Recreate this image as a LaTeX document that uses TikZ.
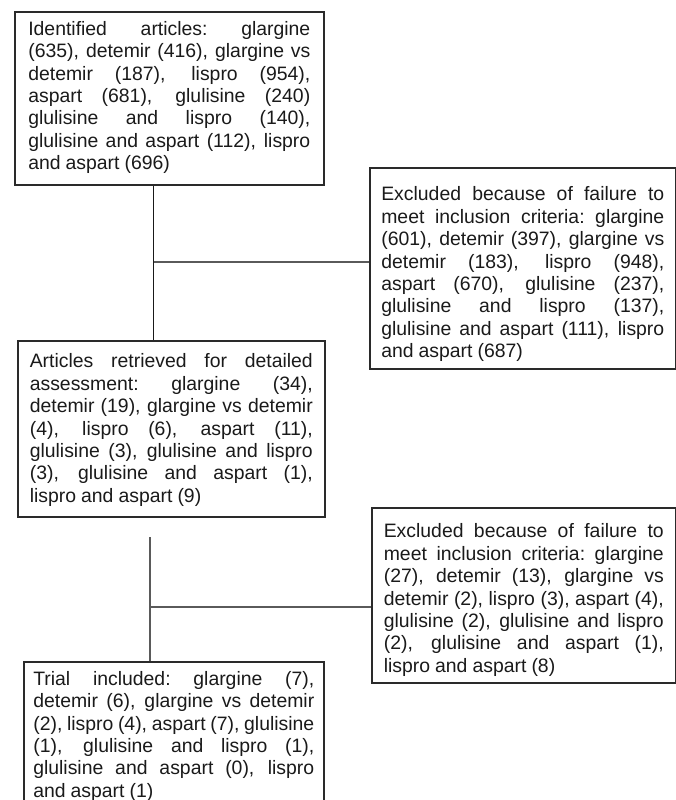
\documentclass[tikz,border=0pt]{standalone}
\usepackage{fontspec}
\setmainfont{Liberation Sans}
\definecolor{boxc}{HTML}{2A2A2A}
\definecolor{txtc}{HTML}{1A1A1A}
\definecolor{linec}{HTML}{5A5A5A}
\newcommand{\jl}[1]{\hbox to \hsize{\spaceskip=.278em plus 1fil minus .16em\xspaceskip=\spaceskip #1}}
\newcommand{\lastln}[1]{\hbox{\spaceskip=.26em\xspaceskip=\spaceskip #1}}
\tikzset{
  box/.style={draw=boxc, line width=1.6pt, fill=white, anchor=north west,
    align=left, text=txtc, inner ysep=0pt,
    font=\fontsize{19.4}{22.4}\selectfont},
  conn/.style={draw=linec, line width=1.3pt},
  mainconn/.style={draw=black!90, line width=1.8pt}
}
\begin{document}
\begin{tikzpicture}[x=1pt,y=-1pt]
\useasboundingbox (0,0) rectangle (676,800);
\fill[white] (0,0) rectangle (676,800);

\node[box, text width=282pt, inner xsep=13.5pt, text height=23.5pt, text depth=149.5pt] (b1) at (14,11)
{\jl{Identified articles: glargine}
\jl{(635), detemir (416), glargine vs}
\jl{detemir (187), lispro (954),}
\jl{aspart (681), glulisine (240)}
\jl{glulisine and lispro (140),}
\jl{glulisine and aspart (112), lispro}
\lastln{and aspart (696)}};

\node[box, text width=283pt, inner xsep=11.5pt, text height=33pt, text depth=168pt] (b2) at (369,167)
{\jl{Excluded because of failure to}
\jl{meet inclusion criteria: glargine}
\jl{(601), detemir (397), glargine vs}
\jl{detemir (183), lispro (948),}
\jl{aspart (670), glulisine (237),}
\jl{glulisine and lispro (137),}
\jl{glulisine and aspart (111), lispro}
\lastln{and aspart (687)}};

\node[box, text width=283pt, inner xsep=12pt, text height=27pt, text depth=149pt] (b3) at (17,340)
{\jl{Articles retrieved for detailed}
\jl{assessment: glargine (34),}
\jl{detemir (19), glargine vs detemir}
\jl{(4), lispro (6), aspart (11),}
\jl{glulisine (3), glulisine and lispro}
\jl{(3), glulisine and aspart (1),}
\lastln{lispro and aspart (9)}};

\node[box, text width=280pt, inner xsep=12pt, text height=30pt, text depth=145pt] (b4) at (371,507)
{\jl{Excluded because of failure to}
\jl{meet inclusion criteria: glargine}
\jl{(27), detemir (13), glargine vs}
\jl{detemir (2), lispro (3), aspart (4),}
\jl{glulisine (2), glulisine and lispro}
\jl{(2), glulisine and aspart (1),}
\lastln{lispro and aspart (8)}};

\node[box, text width=281pt, inner xsep=9.5pt, text height=23.5pt, text depth=125pt] (b5) at (23,661)
{\jl{Trial included: glargine (7),}
\jl{detemir (6), glargine vs detemir}
\jl{(2), lispro (4), aspart (7), glulisine}
\jl{(1), glulisine and lispro (1),}
\jl{glulisine and aspart (0), lispro}
\lastln{and aspart (1)}};

\coordinate (j1) at (153.5,262);
\coordinate (t2) at (150,537);
\coordinate (j2) at (150,607);

\draw[mainconn] (b1.south -| j1) -- (b3.north -| j1);
\draw[conn] (j1) -- (j1 -| b2.west);
\draw[conn] (t2) -- (b5.north -| t2);
\draw[conn] (j2) -- (j2 -| b4.west);
\end{tikzpicture}
\end{document}
